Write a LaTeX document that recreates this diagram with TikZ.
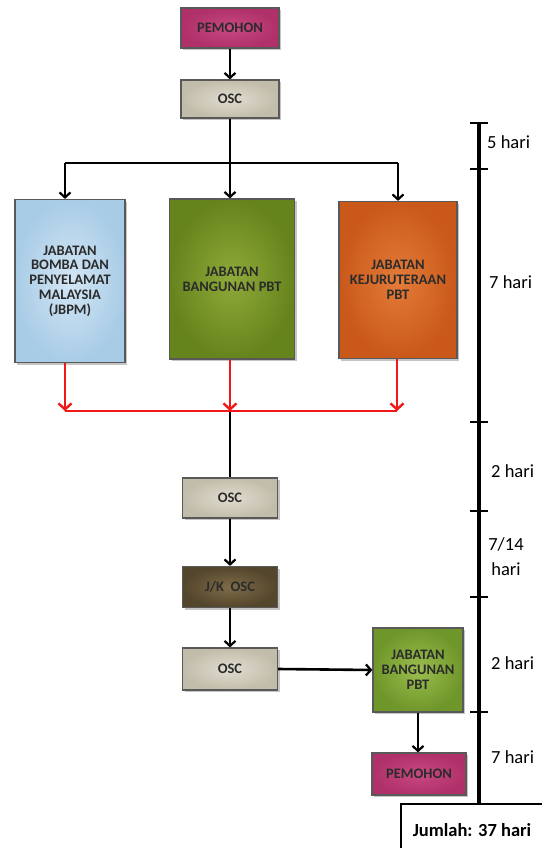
\documentclass[tikz,border=0pt]{standalone}
\usepackage{fontspec}
\setmainfont{Carlito}
\usetikzlibrary{arrows.meta,shadows}
\definecolor{pem}{HTML}{B0306A}
\definecolor{pemin}{HTML}{C84A82}
\definecolor{osc}{HTML}{C2BDAA}
\definecolor{oscin}{HTML}{E0DCD0}
\definecolor{blu}{HTML}{A9CCE6}
\definecolor{bluin}{HTML}{D2E6F5}
\definecolor{olv}{HTML}{66841C}
\definecolor{olvin}{HTML}{8FAA3A}
\definecolor{org}{HTML}{C9581A}
\definecolor{orgin}{HTML}{E47C38}
\definecolor{brn}{HTML}{54462C}
\definecolor{brnin}{HTML}{7E6B48}
\definecolor{grn}{HTML}{6F962A}
\definecolor{grnin}{HTML}{9BBE4E}
\definecolor{txt}{HTML}{2B2B2B}
\definecolor{redl}{HTML}{F01818}
\begin{document}
\begin{tikzpicture}[x=1pt,y=-1pt,
  boxs/.style={rectangle, draw=black!65, line width=1.2pt, drop shadow={shadow xshift=2pt,shadow yshift=-2pt,opacity=0.45},
     font=\bfseries\fontsize{14.5}{14.8}\selectfont, text=txt, align=center, inner sep=1pt},
  arr/.style={line width=2.6pt, -{Straight Barb[length=5pt,width=11pt,line width=2.2pt]}},
  rarr/.style={line width=2.8pt, draw=redl, -{Straight Barb[length=6pt,width=13pt,line width=2.4pt]}},
  tl/.style={line width=3.4pt},
  lbl/.style={font=\fontsize{18.5}{20}\selectfont, anchor=west, inner sep=0pt}
]
\useasboundingbox (0,0) rectangle (541,848);
\fill[white] (0,0) rectangle (541,848);

% boxes
\node[boxs, inner color=pemin, outer color=pem, minimum width=98pt, minimum height=40pt] (p1) at (230,28) {PEMOHON};
\node[boxs, inner color=oscin, outer color=osc, minimum width=98pt, minimum height=38pt] (o1) at (230,99) {OSC};
\node[boxs, inner color=bluin, outer color=blu, minimum width=110pt, minimum height=163pt] (jbpm) at (70,281) {JABATAN\\BOMBA DAN\\PENYELAMAT\\MALAYSIA\\(JBPM)};
\node[boxs, inner color=olvin, outer color=olv, minimum width=125pt, minimum height=160pt] (jb) at (232,279) {JABATAN\\BANGUNAN PBT};
\node[boxs, inner color=orgin, outer color=org, minimum width=118pt, minimum height=157pt] (jk) at (398,280) {JABATAN\\KEJURUTERAAN\\PBT};
\node[boxs, inner color=oscin, outer color=osc, minimum width=95pt, minimum height=40pt] (o2) at (230,498) {OSC};
\node[boxs, inner color=brnin, outer color=brn, minimum width=95pt, minimum height=41pt] (jko) at (230,587) {J/K\ \ OSC};
\node[boxs, inner color=oscin, outer color=osc, minimum width=95pt, minimum height=42pt] (o3) at (230,669) {OSC};
\node[boxs, inner color=grnin, outer color=grn, minimum width=90pt, minimum height=84pt] (jb2) at (418,670) {JABATAN\\BANGUNAN\\PBT};
\node[boxs, inner color=pemin, outer color=pem, minimum width=94pt, minimum height=42pt] (p2) at (419,774) {PEMOHON};

% top connectors
\coordinate (j0) at (230,163);
\coordinate (ja) at (65,163);
\coordinate (jc) at (398,163);
\draw[arr] (p1.south) -- (o1.north);
\draw[line width=2.6pt] (o1.south) -- (j0);
\draw[line width=2.6pt] (ja) -- (jc);
\draw[arr] (ja) -- (ja |- jbpm.north);
\draw[arr] (j0) -- (j0 |- jb.north);
\draw[arr] (jc) -- (jc |- jk.north);

% red connectors
\coordinate (ra) at (65,411);
\coordinate (rb) at (230,411);
\coordinate (rc) at (397,411);
\draw[line width=2.6pt] (rb) -- (o2.north);
\draw[line width=2.8pt, redl] (ra) -- (rc);
\draw[rarr] (jbpm.south -| ra) -- (ra);
\draw[rarr] (jb.south -| rb) -- (rb);
\draw[rarr] (jk.south -| rc) -- (rc);

% lower connectors
\draw[arr] (o2.south) -- (jko.north);
\draw[arr] (jko.south) -- (o3.north);
\draw[arr] (o3.east) -- (jb2.west);
\draw[arr] (jb2.south) -- (jb2.south |- p2.north);

% timeline
\coordinate (t0) at (479,123);
\coordinate (t1) at (479,169);
\coordinate (t2) at (479,422);
\coordinate (t3) at (479,511);
\coordinate (t4) at (479,597);
\coordinate (t5) at (479,712);
\coordinate (te) at (479,804);
\draw[tl] (t0) -- (te);
\foreach \t in {t0,t1,t2,t3,t4,t5}{\draw[line width=2.8pt] ([xshift=-9pt]\t) -- ([xshift=9pt]\t);}

\node[lbl] (l1) at (487,142) {5 hari};
\node[lbl] (l2) at (489,282) {7 hari};
\node[lbl] (l3) at (491,471) {2 hari};
\node[font=\fontsize{18.5}{25}\selectfont, align=center, inner sep=0pt] (l4) at (506,557) {7/14\\hari};
\node[lbl] (l5) at (491,663) {2 hari};
\node[lbl] (l6) at (491,757) {7 hari};

% total box
\draw[line width=2.8pt] (401,804) rectangle (548,855);
\node[font=\bfseries\fontsize{18.5}{20}\selectfont, inner sep=0pt] (tot) at (472,830) {Jumlah: 37 hari};
\end{tikzpicture}
\end{document}
